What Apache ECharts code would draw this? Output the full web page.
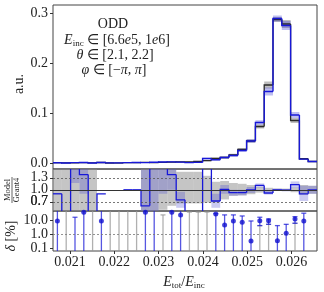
<!DOCTYPE html>
<html><head><meta charset="utf-8">
<script src="https://cdn.jsdelivr.net/npm/echarts@6/dist/echarts.min.js"></script>
<style>html,body{margin:0;padding:0;background:#fff}#c{width:324px;height:292px}</style>
</head><body><div id="c"></div>
<script>
// ---------- data ----------
const binLo = 0.0206163, binHi = 0.0265756, nBins = 30;
const xTicks = [0.021, 0.022, 0.023, 0.024, 0.025, 0.026];
const mainTicks = [0.0, 0.1, 0.2, 0.3];
const ratioTicks = [0.7, 1.0, 1.3];
const deltaTicks = [0.1, 1, 10];

const geant4 = [0.0006,0.0004,0.0003,0.0008,0.0004,0.0010,0.0000,0.0000,0.0008,0.0009,0.0012,0.0008,0.0011,0.0016,0.0022,0.0022,0.0030,0.0048,0.0090,0.0110,0.0160,0.0270,0.0440,0.0730,0.1560,0.2870,0.2780,0.0850,0.0085,0.0030];
const geant4Err = [0.0006,0.0005,0.0004,0.0006,0.0004,0.0007,0,0,0.0006,0.0006,0.0007,0.0006,0.0007,0.0008,0.0009,0.0009,0.0011,0.0013,0.0018,0.0020,0.0025,0.0030,0.0035,0.0040,0.0070,0.0050,0.0080,0.0050,0.0015,0.0010];
const model = [0.0005,0.0000,0.0008,0.0011,0.0000,0.0009,0.0003,0.0002,0.0008,0.0009,0.0007,0.0015,0.0019,0.0022,0.0017,0.0007,0.0012,0.0090,0.0065,0.0110,0.0150,0.0250,0.0440,0.0810,0.1430,0.2890,0.2750,0.0960,0.0077,0.0030];
const modelErr = [0.0005,0.0004,0.0006,0.0006,0.0004,0.0006,0.0004,0.0004,0.0006,0.0006,0.0006,0.0007,0.0008,0.0008,0.0008,0.0007,0.0008,0.0015,0.0015,0.0020,0.0022,0.0028,0.0035,0.0045,0.0080,0.0060,0.0090,0.0060,0.0015,0.0010];

const ratio = [0.9,0.0,2.5,1.38,0.0,0.9,null,null,1.0,1.0,0.6,1.8,1.7,1.38,0.75,0.3,0.4,1.9,0.72,1.01,0.93,0.93,0.997,1.11,0.92,1.0,0.99,1.13,0.9,1.0];
const ratioG4Lo = [0,0,0,0,0,null,null,null,null,null,0.45,0.45,0.5,0.6,0.66,0.66,0.66,0.68,0.69,0.76,0.85,0.86,0.89,0.93,0.95,0.97,0.97,0.94,0.88,0.9];
const ratioG4Hi = [3,3,3,3,3,null,null,null,null,null,1.55,1.55,1.55,1.5,1.45,1.45,1.45,1.35,1.2,1.22,1.17,1.15,1.12,1.07,1.05,1.03,1.03,1.06,1.12,1.1];
const ratioMoLo = [null,null,1.17,0.9,null,null,null,null,null,null,0.45,0.45,0.9,1.0,0.55,null,null,null,0.55,0.9,0.85,0.86,0.92,1.06,0.88,0.97,0.96,1.05,0.72,0.9];
const ratioMoHi = [null,null,3,1.8,null,null,null,null,null,null,1.5,1.55,1.55,1.55,0.95,null,null,null,0.9,1.12,1.0,1.0,1.07,1.16,0.97,1.03,1.02,1.21,1.1,1.1];

const deltaVals = [9.2,null,null,38.5,null,9.2,null,null,null,null,38.5,null,null,38.5,24.7,null,null,null,29,4.8,9.2,7.4,0.34,9.7,9.7,0.36,1.22,12.8,9.2,null];
const deltaBlueLo = [0.01,null,0.01,0.01,null,0.01,null,null,null,null,0.01,0.01,null,0.01,0.01,null,null,null,0.01,0.01,0.01,0.01,0.01,4.3,5.3,0.01,0.01,6.3,0.01,null];
const deltaBlueHi = [100,null,17,100,null,100,null,null,null,null,100,100,null,100,100,null,null,null,31,25,25,21,9.2,17,12.8,4.3,5.3,18.7,33,null];
const deltaGrayLo = [null,0.01,null,null,0.01,null,0.01,0.01,0.01,0.01,null,null,0.01,null,null,0.01,0.01,0.01,null,null,null,null,null,0.01,0.01,null,null,0.01,null,null];
const deltaGrayHi = [null,100,null,null,100,null,100,100,100,100,null,null,25,null,null,40,40,40,null,null,null,null,null,4.3,5.3,null,null,6.3,null,null];

// ---------- helpers ----------
const edges = Array.from({length: nBins + 1}, (_, i) => binLo + i * (binHi - binLo) / nBins);
const centers = edges.slice(0, -1).map((e, i) => (e + edges[i + 1]) / 2);
const BLUE = '#1818d8', BLACK = '#2a2a2a';
const SERIF = 'Liberation Serif';

function stepSeries(vals, color, width, ai, z) {
  const data = [];
  vals.forEach((v, i) => {
    if (v === null) return;
    const prev = i > 0 && vals[i - 1] !== null ? vals[i - 1] : v;
    data.push([edges[i], edges[i + 1], v, prev]);
  });
  return {
    type: 'custom', xAxisIndex: ai, yAxisIndex: ai, clip: true, z: z, silent: true,
    encode: {x: [0, 1], y: [2, 3]},
    renderItem: (p, api) => {
      const p0 = api.coord([api.value(0), api.value(3)]);
      const p1 = api.coord([api.value(0), api.value(2)]);
      const p2 = api.coord([api.value(1), api.value(2)]);
      return {type: 'polyline', shape: {points: [p0, p1, p2]}, style: {stroke: color, lineWidth: width, fill: null}};
    },
    data: data
  };
}
function bandSeries(lo, hi, color, ai, z) {
  const data = [];
  lo.forEach((l, i) => { if (l !== null && hi[i] !== null) data.push([edges[i], edges[i + 1], l, hi[i]]); });
  return {
    type: 'custom', xAxisIndex: ai, yAxisIndex: ai, clip: true, z: z, silent: true,
    encode: {x: [0, 1], y: [2, 3]},
    renderItem: (p, api) => {
      const a = api.coord([api.value(0), api.value(3)]);
      const b = api.coord([api.value(1), api.value(2)]);
      return {type: 'rect', shape: {x: a[0], y: a[1], width: b[0] - a[0], height: b[1] - a[1]}, style: {fill: color}};
    },
    data: data
  };
}
function errSeries(lo, hi, color, z) {
  const data = [];
  lo.forEach((l, i) => { if (l !== null) data.push([centers[i], l, hi[i]]); });
  return {
    type: 'custom', xAxisIndex: 2, yAxisIndex: 2, clip: true, z: z, silent: true,
    encode: {x: 0, y: [1, 2]},
    renderItem: (p, api) => {
      const a = api.coord([api.value(0), api.value(1)]);
      const b = api.coord([api.value(0), api.value(2)]);
      const st = {stroke: color, lineWidth: 1.3};
      return {type: 'group', children: [
        {type: 'line', shape: {x1: a[0], y1: a[1], x2: b[0], y2: b[1]}, style: st},
        {type: 'line', shape: {x1: a[0] - 2.5, y1: a[1], x2: a[0] + 2.5, y2: a[1]}, style: st},
        {type: 'line', shape: {x1: b[0] - 2.5, y1: b[1], x2: b[0] + 2.5, y2: b[1]}, style: st}
      ]};
    },
    data: data
  };
}
const mainLo = (v, e) => v.map((x, i) => x - e[i]);
const mainHi = (v, e) => v.map((x, i) => x + e[i]);

const labelStyle = {fontFamily: SERIF, fontSize: 14, color: '#222', hideOverlap: false, showMinLabel: true, showMaxLabel: true};
function xAxis(idx, showLabels) {
  return {
    type: 'value', gridIndex: idx, min: binLo, max: binHi,
    axisLine: {show: false}, splitLine: {show: false},
    axisTick: {show: showLabels, customValues: xTicks, length: 3, lineStyle: {color: '#333'}},
    axisLabel: Object.assign({show: showLabels, customValues: xTicks, margin: 4,
      formatter: v => v.toFixed(3)}, labelStyle)
  };
}
function yAxis(idx, min, max, ticks, labels, fmt, type, lh) {
  return {
    type: type || 'value', gridIndex: idx, min: min, max: max, position: 'left', offset: 0,
    axisLine: {show: false}, splitLine: {show: false},
    axisTick: {show: ticks.length > 0, customValues: ticks.length ? ticks : [min], length: 3, lineStyle: {color: '#333'}},
    axisLabel: Object.assign({customValues: labels, margin: 5, formatter: fmt}, labelStyle, lh ? {lineHeight: lh} : {})
  };
}
const gridBase = {left: 53, right: 7, show: true, borderColor: '#444', borderWidth: 1, backgroundColor: 'transparent'};

function hLines(ai, items, z) {
  return {
    type: 'line', xAxisIndex: ai, yAxisIndex: ai, data: [[binLo, 1]], symbol: 'none',
    lineStyle: {opacity: 0}, silent: true, z: z,
    markLine: {silent: true, symbol: 'none', label: {show: false}, animation: false, data: items}
  };
}
const dotted = {type: [2, 2], color: '#555', width: 0.8};
const ratioLines = hLines(1, [
  {yAxis: 1.3, lineStyle: dotted},
  {yAxis: 1.0, lineStyle: {type: 'solid', color: '#333', width: 1}},
  {yAxis: 0.7, lineStyle: dotted}], 3);
const ratioVGrid = hLines(1, xTicks.map(t => ({xAxis: t, lineStyle: {type: 'solid', color: '#bdbdbd', width: 0.8}})), 0);
const deltaLine = hLines(2, [{yAxis: 1, lineStyle: {type: [2, 2], color: '#777', width: 0.8}}], 0);

const deltaPoints = deltaVals.map((v, i) => v === null ? null : [centers[i], v]).filter(d => d);
const f1 = v => v.toFixed(1);

const option = {
  animation: false,
  grid: [
    Object.assign({top: 5, height: 164}, gridBase),
    Object.assign({top: 169, height: 42}, gridBase),
    Object.assign({top: 211, height: 40}, gridBase),
    Object.assign({top: 169, height: 42}, gridBase, {show: false})
  ],
  xAxis: [xAxis(0, false), xAxis(1, false), xAxis(2, true), xAxis(3, false)],
  yAxis: [
    yAxis(0, -0.012, 0.316, mainTicks, mainTicks, f1),
    yAxis(1, 0.47, 1.52, ratioTicks, [ratioTicks[0], ratioTicks[2]], f1, 'value', 8),
    yAxis(2, 0.066, 47.5, deltaTicks, deltaTicks, f1, 'log'),
    yAxis(1, 0.47, 1.52, [], [ratioTicks[1]], f1, 'value', 8),
    yAxis(3, 0.47, 1.52, [], [ratioTicks[0]], f1, 'value', 8)
  ],
  series: [
    bandSeries(mainLo(geant4, geant4Err), mainHi(geant4, geant4Err), 'rgba(110,110,110,0.45)', 0, 1),
    bandSeries(mainLo(model, modelErr), mainHi(model, modelErr), 'rgba(70,70,215,0.35)', 0, 2),
    stepSeries(geant4, BLACK, 1.3, 0, 3),
    stepSeries(model, BLUE, 1.4, 0, 4),
    ratioVGrid,
    bandSeries(ratioG4Lo, ratioG4Hi, 'rgba(140,140,140,0.5)', 1, 1),
    bandSeries(ratioMoLo, ratioMoHi, 'rgba(80,80,210,0.3)', 1, 2),
    ratioLines,
    stepSeries(ratio, BLUE, 1.3, 1, 4),
    deltaLine,
    errSeries(deltaGrayLo, deltaGrayHi, 'rgba(150,150,150,0.75)', 1),
    errSeries(deltaBlueLo, deltaBlueHi, 'rgba(30,30,215,0.75)', 2),
    {type: 'scatter', xAxisIndex: 2, yAxisIndex: 2, data: deltaPoints, symbol: 'circle', symbolSize: 5,
      itemStyle: {color: '#1010d0'}, z: 5, silent: true},
    {type: 'line', xAxisIndex: 3, yAxisIndex: 4, data: [[binLo, 1]], symbol: 'none', lineStyle: {opacity: 0}, silent: true}
  ],
  graphic: [
    {type: 'text', x: 113, y: 24, style: {text: 'ODD', fontFamily: SERIF, fontSize: 14, fill: '#222', align: 'center', verticalAlign: 'middle'}},
    {type: 'text', x: 117, y: 40, style: {
      text: '{i|E}{s|inc}{n| ∈ [6.6}{i|e}{n|5, 1}{i|e}{n|6]}', align: 'center', verticalAlign: 'middle',
      rich: {i: {fontFamily: SERIF, fontStyle: 'italic', fontSize: 14, fill: '#222'},
             n: {fontFamily: SERIF, fontSize: 14, fill: '#222'},
             s: {fontFamily: SERIF, fontSize: 9, fill: '#222', padding: [7, 0, 0, 0]}}}},
    {type: 'text', x: 115, y: 55.5, style: {
      text: '{i|θ}{n| ∈ [2.1, 2.2]}', align: 'center', verticalAlign: 'middle',
      rich: {i: {fontFamily: SERIF, fontStyle: 'italic', fontSize: 14, fill: '#222'},
             n: {fontFamily: SERIF, fontSize: 14, fill: '#222'}}}},
    {type: 'text', x: 114, y: 70, style: {
      text: '{i|φ}{n| ∈ [−}{i|π}{n|, }{i|π}{n|]}', align: 'center', verticalAlign: 'middle',
      rich: {i: {fontFamily: SERIF, fontStyle: 'italic', fontSize: 14, fill: '#222'},
             n: {fontFamily: SERIF, fontSize: 14, fill: '#222'}}}},
    {type: 'text', x: 19.5, y: 84, rotation: Math.PI / 2, style: {text: 'a.u.', fontFamily: SERIF, fontSize: 14, fill: '#222', align: 'center', verticalAlign: 'middle'}},
    {type: 'group', x: 12, y: 190, rotation: Math.PI / 2, children: [
      {type: 'text', x: 0, y: -4.5, style: {text: 'Model', fontFamily: SERIF, fontSize: 8.5, fill: '#222', align: 'center', verticalAlign: 'middle'}},
      {type: 'line', shape: {x1: -13, y1: 0, x2: 13, y2: 0}, style: {stroke: '#222', lineWidth: 0.7}},
      {type: 'text', x: 0, y: 4.8, style: {text: 'Geant4', fontFamily: SERIF, fontSize: 8.5, fill: '#222', align: 'center', verticalAlign: 'middle'}}
    ]},
    {type: 'text', x: 11, y: 236, rotation: Math.PI / 2, style: {
      text: '{i|δ}{n| [%]}', align: 'center', verticalAlign: 'middle',
      rich: {i: {fontFamily: SERIF, fontStyle: 'italic', fontSize: 14, fill: '#222'},
             n: {fontFamily: SERIF, fontSize: 14, fill: '#222'}}}},
    {type: 'text', x: 184, y: 282, style: {
      text: '{i|E}{s|tot}{n|/}{i|E}{s|inc}', align: 'center', verticalAlign: 'middle',
      rich: {i: {fontFamily: SERIF, fontStyle: 'italic', fontSize: 14, fill: '#222'},
             n: {fontFamily: SERIF, fontSize: 14, fill: '#222'},
             s: {fontFamily: SERIF, fontSize: 9, fill: '#222', padding: [7, 0, 0, 0]}}}}
  ]
};
const chart = echarts.init(document.getElementById('c'), null, {renderer: 'canvas'});
chart.setOption(option);
</script>
</body></html>
